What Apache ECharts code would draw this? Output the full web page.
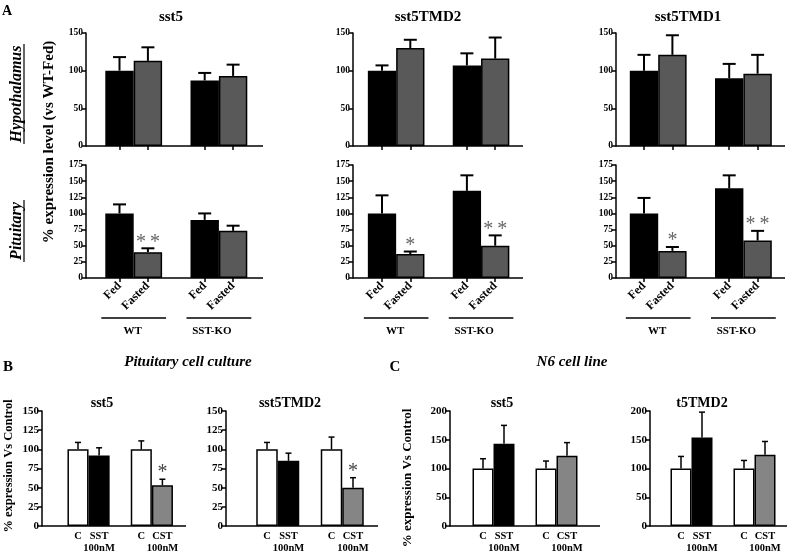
<!DOCTYPE html>
<html>
<head>
<meta charset="utf-8">
<script src="https://cdn.jsdelivr.net/npm/echarts@6/dist/echarts.min.js"></script>
<style>
html, body { margin: 0; padding: 0; background: #fff; }
#main { width: 791px; height: 554px; }
</style>
</head>
<body>
<div id="main"></div>
<script>
const FONT = 'Liberation Serif';

// ---- panel A: order is WT-Fed, WT-Fasted, SST-KO-Fed, SST-KO-Fasted
const A_GROUPS = ['WT', 'SST-KO'];
const A_CATS = ['Fed', 'Fasted', 'Fed', 'Fasted'];
const A_TITLES = ['sst5', 'sst5TMD2', 'sst5TMD1'];
const A_TOP_TICKS = [0, 50, 100, 150];
const A_BOTTOM_TICKS = [0, 25, 50, 75, 100, 125, 150, 175];

const hypoSst5 = [100, 113, 87, 93];
const hypoSst5Err = [18, 18, 10, 15];
const hypoTmd2 = [100, 130, 107, 116];
const hypoTmd2Err = [7, 11, 16, 28];
const hypoTmd1 = [100, 121, 90, 96];
const hypoTmd1Err = [21, 26, 19, 25];

const pitSst5 = [100, 40, 90, 73];
const pitSst5Err = [14, 6, 10, 8];
const pitSst5Sig = ['', '**', '', ''];
const pitTmd2 = [100, 37, 135, 50];
const pitTmd2Err = [28, 4, 24, 16];
const pitTmd2Sig = ['', '*', '', '**'];
const pitTmd1 = [100, 42, 139, 58];
const pitTmd1Err = [24, 6, 20, 15];
const pitTmd1Sig = ['', '*', '', '**'];

// ---- panels B and C: C, SST 100nM, C, CST 100nM
const BC_CATS = ['C', 'SST\n100nM', 'C', 'CST\n100nM'];
const B_TICKS = [0, 25, 50, 75, 100, 125, 150];
const C_TICKS = [0, 50, 100, 150, 200];

const cultSst5 = [100, 92, 100, 53];
const cultSst5Err = [9, 10, 11, 8];
const cultTmd2 = [100, 85, 100, 50];
const cultTmd2Err = [9, 10, 16, 13];
const cultSig = ['', '', '', '*'];

const n6Sst5 = [100, 143, 100, 122];
const n6Sst5Err = [17, 32, 13, 23];
const n6Tmd2 = [100, 154, 100, 124];
const n6Tmd2Err = [21, 44, 14, 23];

const A_COLORS = ['#000', '#595959', '#000', '#595959'];
const BC_COLORS = ['#fff', '#000', '#fff', '#858585'];

const option = {
  animation: false,
  backgroundColor: '#fff',
  grid: [], xAxis: [], yAxis: [], series: [], graphic: []
};

function txt(text, x, y, size, extra) {
  return {
    type: 'text', x: x, y: y,
    style: Object.assign({
      text: text, fill: '#000', font: 'bold ' + size + 'px "' + FONT + '"',
      align: 'center', verticalAlign: 'middle'
    }, extra || {})
  };
}

function addChart(c) {
  const i = option.grid.length;
  const left = c.c0 - c.slot / 2;
  option.grid.push({ left: left, top: c.top, width: c.slot * 5, height: c.bottom - c.top });

  const cats = [c.cats[0], c.cats[1], '', c.cats[2], c.cats[3]];
  option.xAxis.push({
    type: 'category', gridIndex: i, data: cats,
    axisLine: { show: false },
    axisTick: c.xTicks
      ? { show: true, alignWithLabel: true, length: 4, interval: (k) => k !== 2,
          lineStyle: { color: '#000', width: 1.5 } }
      : { show: false },
    axisLabel: c.xLabel
      ? Object.assign({ show: true, interval: 0, color: '#000', fontFamily: FONT,
          fontWeight: 'bold' }, c.xLabel)
      : { show: false },
    splitLine: { show: false }
  });

  const t = c.ticks;
  option.yAxis.push({
    type: 'value', gridIndex: i,
    min: t[0], max: t[t.length - 1], interval: t[1] - t[0],
    offset: left - c.ax,
    axisLine: { show: true, lineStyle: { color: '#000', width: 1.5 } },
    axisTick: { show: true, length: 4, lineStyle: { color: '#000', width: 1.5 } },
    axisLabel: { color: '#000', fontFamily: FONT, fontWeight: 'bold', fontSize: c.yFont, margin: 3 },
    splitLine: { show: false }
  });

  const barData = [];
  c.values.forEach((v, k) => {
    if (k === 2) barData.push('-');
    barData.push({ value: v, itemStyle: { color: c.colors[k] } });
  });
  option.series.push({
    type: 'bar', xAxisIndex: i, yAxisIndex: i, data: barData,
    barCategoryGap: '0%',
    itemStyle: { borderColor: '#000', borderWidth: 1.5 },
    silent: true
  });

  const sigs = c.sig || [];
  option.series.push({
    type: 'custom', xAxisIndex: i, yAxisIndex: i,
    data: c.values.map((v, k) => [k < 2 ? k : k + 1, v, c.errs[k]]),
    renderItem: function (params, api) {
      const x = api.value(0), v = api.value(1), e = api.value(2);
      const base = api.coord([x, v]);
      const top = api.coord([x, v + e]);
      const ls = { stroke: '#000', lineWidth: c.errW };
      const children = [
        { type: 'line', shape: { x1: top[0], y1: base[1], x2: top[0], y2: top[1] }, style: ls },
        { type: 'line', shape: { x1: top[0] - c.cap, y1: top[1], x2: top[0] + c.cap, y2: top[1] }, style: ls }
      ];
      const s = sigs[params.dataIndex];
      if (s) {
        children.push({
          type: 'text', x: top[0], y: top[1] - 6,
          style: { text: s.split('').join('\u2009'), fill: c.sigColor, font: '20px "' + FONT + '"',
            align: 'center', verticalAlign: 'middle' }
        });
      }
      return { type: 'group', children: children };
    },
    z: 5,
    silent: true
  });

  option.graphic.push({
    type: 'line', shape: { x1: c.ax, y1: c.bottom, x2: c.end, y2: c.bottom },
    style: { stroke: '#000', lineWidth: 1.5 }
  });

  if (c.groups) {
    c.groups.forEach((g, k) => {
      const x1 = left + k * 3 * c.slot - 4;
      const x2 = left + (k * 3 + 2) * c.slot + 4;
      option.graphic.push({
        type: 'line', shape: { x1: x1, y1: 318, x2: x2, y2: 318 },
        style: { stroke: '#000', lineWidth: 1.5 }
      });
      option.graphic.push(txt(g, (x1 + x2) / 2 - (k ? 7 : 1), 331, 11));
    });
  }
}

// panel A layouts
const A_POS = [
  { ax: 86, c0: 119.5, slot: 28.4, end: 263 },
  { ax: 353, c0: 382, slot: 28.3, end: 523 },
  { ax: 616, c0: 644, slot: 28.4, end: 785 }
];
const hypo = [[hypoSst5, hypoSst5Err], [hypoTmd2, hypoTmd2Err], [hypoTmd1, hypoTmd1Err]];
const pit = [[pitSst5, pitSst5Err, pitSst5Sig], [pitTmd2, pitTmd2Err, pitTmd2Sig], [pitTmd1, pitTmd1Err, pitTmd1Sig]];

A_POS.forEach((p, k) => {
  addChart(Object.assign({}, p, {
    top: 33, bottom: 146, ticks: A_TOP_TICKS, yFont: 9.5,
    cats: A_CATS, values: hypo[k][0], errs: hypo[k][1], colors: A_COLORS,
    xTicks: true, errW: 2, cap: 6.5, sigColor: '#666'
  }));
  addChart(Object.assign({}, p, {
    top: 165, bottom: 278, ticks: A_BOTTOM_TICKS, yFont: 9.5,
    cats: A_CATS, values: pit[k][0], errs: pit[k][1], sig: pit[k][2], colors: A_COLORS,
    xTicks: true, xLabel: { rotate: 45, fontSize: 12, margin: 6 },
    errW: 2, cap: 6.5, sigColor: '#666', groups: A_GROUPS
  }));
});

// panels B and C
const bcLabel = { fontSize: 10.5, lineHeight: 12, margin: 4 };
addChart({ ax: 42, c0: 78, slot: 21.1, end: 186, top: 411, bottom: 526, ticks: B_TICKS, yFont: 11,
  cats: BC_CATS, values: cultSst5, errs: cultSst5Err, sig: cultSig, colors: BC_COLORS,
  xLabel: bcLabel, errW: 1.5, cap: 3, sigColor: '#444' });
addChart({ ax: 226, c0: 267, slot: 21.5, end: 378, top: 411, bottom: 526, ticks: B_TICKS, yFont: 11,
  cats: BC_CATS, values: cultTmd2, errs: cultTmd2Err, sig: cultSig, colors: BC_COLORS,
  xLabel: bcLabel, errW: 1.5, cap: 3, sigColor: '#444' });
addChart({ ax: 450, c0: 483, slot: 21, end: 600, top: 411, bottom: 526, ticks: C_TICKS, yFont: 11,
  cats: BC_CATS, values: n6Sst5, errs: n6Sst5Err, colors: BC_COLORS,
  xLabel: bcLabel, errW: 1.5, cap: 3, sigColor: '#444' });
addChart({ ax: 650, c0: 681, slot: 21, end: 787, top: 411, bottom: 526, ticks: C_TICKS, yFont: 11,
  cats: BC_CATS, values: n6Tmd2, errs: n6Tmd2Err, colors: BC_COLORS,
  xLabel: bcLabel, errW: 1.5, cap: 3, sigColor: '#444' });

// titles and side labels
option.graphic.push(txt('A', 7, 11, 14));
option.graphic.push(txt('B', 8, 367, 15));
option.graphic.push(txt('C', 395, 367, 15));
option.graphic.push(txt(A_TITLES[0], 171, 17, 15));
option.graphic.push(txt(A_TITLES[1], 428, 17, 15));
option.graphic.push(txt(A_TITLES[2], 688, 17, 15));
option.graphic.push(txt('sst5', 102, 403, 14));
option.graphic.push(txt('sst5TMD2', 290, 403, 14));
option.graphic.push(txt('sst5', 502, 403, 14));
option.graphic.push(txt('t5TMD2', 702, 403, 14));
option.graphic.push(txt('Pituitary cell culture', 188, 362, 15,
  { font: 'italic bold 15px "' + FONT + '"' }));
option.graphic.push(txt('N6 cell line', 572, 362, 15,
  { font: 'italic bold 15px "' + FONT + '"' }));

function rotLabel(text, x, y, size, italic, underline) {
  const children = [{
    type: 'text', x: 0, y: 0,
    style: { text: text, fill: '#000', font: (italic ? 'italic ' : '') + 'bold ' + size + 'px "' + FONT + '"',
      align: 'center', verticalAlign: 'middle' }
  }];
  if (underline) {
    children.push({ type: 'line', shape: { x1: -underline / 2, y1: 7, x2: underline / 2, y2: 7 },
      style: { stroke: '#000', lineWidth: 1.2 } });
  }
  return { type: 'group', x: x, y: y, rotation: Math.PI / 2, children: children };
}
option.graphic.push(rotLabel('Hypothalamus', 17, 94, 16, true, 100));
option.graphic.push(rotLabel('Pituitary', 17, 231, 16, true, 62));
option.graphic.push(rotLabel('% expression level (vs WT-Fed)', 49, 142, 15, false));
option.graphic.push(rotLabel('% expression Vs Control', 9, 466, 12.5, false));
option.graphic.push(rotLabel('% expression Vs Control', 408, 478, 13, false));

const chart = echarts.init(document.getElementById('main'));
chart.setOption(option);
</script>
</body>
</html>
